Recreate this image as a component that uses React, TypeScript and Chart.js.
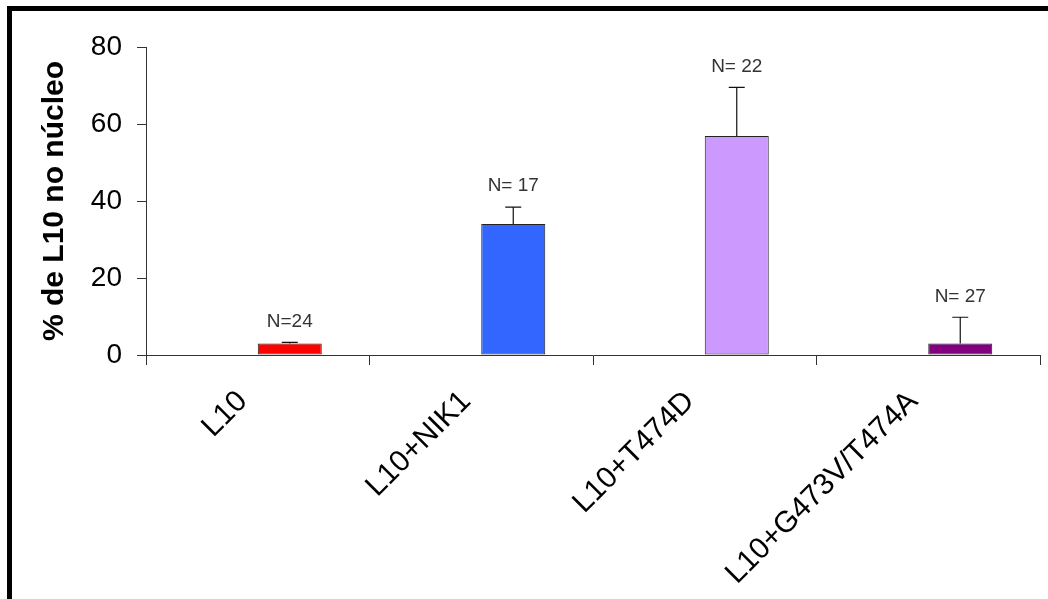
import React, { useEffect, useRef } from 'react';
import { Chart, registerables } from 'chart.js';
Chart.register(...registerables);

const categories = ['L10', 'L10+NIK1', 'L10+T474D', 'L10+G473V/T474A'];
const means = [3, 34, 56.9, 3];
const errors = [0.3, 4.4, 12.6, 6.8];
const nLabels = ['N=24', 'N= 17', 'N= 22', 'N= 27'];
const yMin = 0;
const yMax = 80;
const yStep = 20;
const yTitle = '% de L10 no núcleo';

const barColors = ['#FF0000', '#3366FF', '#CC99FF', '#800080'];
const FONT = "'Liberation Sans', Arial, sans-serif";

const errorBarPlugin = {
  id: 'errorBars',
  afterDatasetsDraw(chart: any) {
    const meta = chart.getDatasetMeta(1);
    const yScale = chart.scales.y;
    const ctx = chart.ctx;
    ctx.save();
    meta.data.forEach((el: any, i: number) => {
      const x = el.x;
      const yTop = yScale.getPixelForValue(means[i] + errors[i]);
      ctx.strokeStyle = '#111';
      ctx.lineWidth = 1.2;
      ctx.beginPath();
      ctx.moveTo(x, el.y);
      ctx.lineTo(x, yTop);
      ctx.moveTo(x - 8, yTop);
      ctx.lineTo(x + 8, yTop);
      ctx.stroke();
      ctx.fillStyle = '#333';
      ctx.font = `19px ${FONT}`;
      ctx.textAlign = 'center';
      ctx.textBaseline = 'middle';
      ctx.fillText(nLabels[i], x, yTop - 21);
    });
    ctx.restore();
  },
};

export default function App() {
  const canvasRef = useRef<HTMLCanvasElement | null>(null);
  useEffect(() => {
    if (!canvasRef.current) return;
    const chart = new Chart(canvasRef.current, {
      type: 'bar',
      data: {
        labels: categories,
        datasets: [
          { label: '', data: categories.map(() => null) },
          {
            label: yTitle,
            data: means,
            backgroundColor: barColors,
            borderColor: '#222',
            borderWidth: 1,
            borderSkipped: false,
            categoryPercentage: 0.5727,
            barPercentage: 1,
          },
        ],
      },
      options: {
        animation: false,
        responsive: false,
        maintainAspectRatio: false,
        layout: { padding: { left: 0, top: 47, right: 8, bottom: 0 } },
        plugins: { legend: { display: false }, tooltip: { enabled: false } },
        datasets: { bar: { categoryPercentage: 0.5727, barPercentage: 1 } },
        scales: {
          x: {
            offset: true,
            grid: { display: true, drawOnChartArea: false, drawTicks: true, tickLength: 10, color: '#333', offset: true },
            border: { display: true, color: '#333', width: 1 },
            ticks: {
              autoSkip: false,
              minRotation: 45,
              maxRotation: 45,
              padding: 19,
              labelOffset: -15,
              color: '#000',
              font: { family: FONT, size: 30 },
            },
            afterFit(scale: any) {
              scale.height = 244;
            },
          },
          y: {
            min: yMin,
            max: yMax,
            grid: { display: true, drawOnChartArea: false, drawTicks: true, tickLength: 9, color: '#333' },
            border: { display: true, color: '#333', width: 1 },
            ticks: {
              stepSize: yStep,
              padding: 15,
              color: '#000',
              font: { family: FONT, size: 28 },
            },
            title: {
              display: true,
              text: yTitle,
              color: '#000',
              font: { family: FONT, size: 30, weight: 'bold' },
              padding: { top: 37, bottom: 0 },
            },
            afterFit(scale: any) {
              scale.width = 146;
            },
          },
        },
      },
      plugins: [errorBarPlugin],
    } as any);
    return () => chart.destroy();
  }, []);

  return (
    <div style={{ position: 'fixed', left: 0, top: 0, width: 1048, height: 599, background: '#fff', overflow: 'hidden' }}>
      <div
        style={{
          position: 'absolute',
          left: 7,
          top: 6,
          width: 1100,
          height: 591,
          border: '5px solid #000',
          boxSizing: 'content-box',
        }}
      />
      <canvas ref={canvasRef} width={1048} height={599} style={{ position: 'absolute', left: 0, top: 0, width: 1048, height: 599 }} />
    </div>
  );
}
